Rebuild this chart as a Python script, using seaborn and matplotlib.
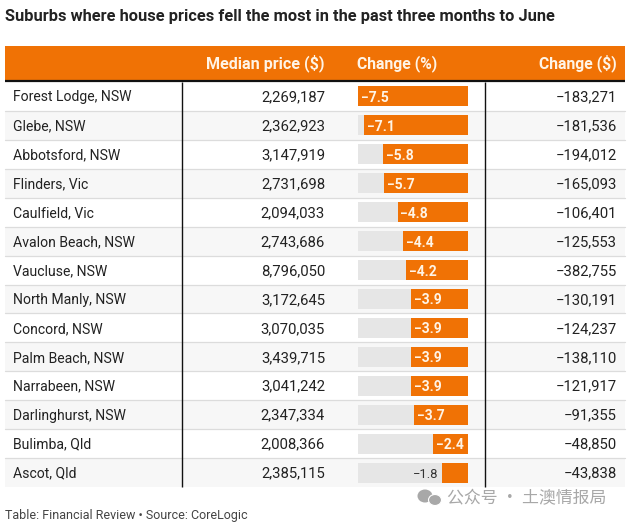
import matplotlib
matplotlib.use("Agg")
import matplotlib.pyplot as plt
from matplotlib.patches import Ellipse, Polygon
import pandas as pd
import seaborn as sns

TITLE = "Suburbs where house prices fell the most in the past three months to June"
FOOT = "Table: Financial Review • Source: CoreLogic"
HEAD_PRICE = "Median price ($)"
HEAD_PCT = "Change (%)"
HEAD_DOL = "Change ($)"
WATERMARK = "公众号 · 土澳情报局"

suburbs = ["Forest Lodge, NSW", "Glebe, NSW", "Abbotsford, NSW", "Flinders, Vic", "Caulfield, Vic",
           "Avalon Beach, NSW", "Vaucluse, NSW", "North Manly, NSW", "Concord, NSW", "Palm Beach, NSW",
           "Narrabeen, NSW", "Darlinghurst, NSW", "Bulimba, Qld", "Ascot, Qld"]
prices = [2269187, 2362923, 3147919, 2731698, 2094033, 2743686, 8796050,
          3172645, 3070035, 3439715, 3041242, 2347334, 2008366, 2385115]
change_pct = [-7.5, -7.1, -5.8, -5.7, -4.8, -4.4, -4.2, -3.9, -3.9, -3.9, -3.9, -3.7, -2.4, -1.8]
change_dol = [-183271, -181536, -194012, -165093, -106401, -125553, -382755,
              -130191, -124237, -138110, -121917, -91355, -48850, -43838]

ORANGE = "#f07205"
W, H = 628, 523
sns.set_theme(style="white")
plt.rcParams["font.family"] = ["Roboto", "DejaVu Sans"]
df = pd.DataFrame({"suburb": suburbs, "pct": change_pct, "track": min(change_pct)})
n = len(suburbs)

fig = plt.figure(figsize=(W / 100, H / 100), dpi=100)
bg = fig.add_axes([0, 0, 1, 1])
bg.set_xlim(0, W); bg.set_ylim(H, 0); bg.axis("off")

TOP, ROW = 82.0, 405.0 / n
X0, X1, V1, V2 = 5, 625, 181.5, 484.5
FS = 10.1
FS_NUM = 10.7
DARK = "#222222"

bg.text(5, 21.5, TITLE, fontsize=11.8, fontweight="bold", color=DARK, va="baseline", ha="left")
bg.axhspan(46, 81, xmin=X0 / W, xmax=X1 / W, color=ORANGE, lw=0)
bg.plot([X0, X1], [81.3, 81.3], color="#111111", lw=1.6, solid_capstyle="butt")
for x, t, ha, fs in [(325, HEAD_PRICE, "right", 11.6), (357, HEAD_PCT, "left", 11.3), (617, HEAD_DOL, "right", 11.3)]:
    bg.text(x, 68, t, color="#fff4e6", fontsize=fs, fontweight="bold", ha=ha, va="baseline")

for i in range(n):
    y0 = TOP + i * ROW
    if i % 2:
        bg.axhspan(y0, y0 + ROW, xmin=X0 / W, xmax=X1 / W, color="#f7f7f7", lw=0)
    if i < n - 1:
        bg.plot([X0, X1], [y0 + ROW, y0 + ROW], color="#dcdcdc", lw=0.9)
    yb = y0 + ROW / 2 + 5
    bg.text(13, yb, suburbs[i], fontsize=FS, color=DARK, ha="left", va="baseline")
    bg.text(325, yb, f"{prices[i]:,}", fontsize=FS_NUM, color=DARK, ha="right", va="baseline")
    bg.text(617, yb, f"−{abs(change_dol[i]):,}", fontsize=FS_NUM, color=DARK, ha="right", va="baseline")
for x in (V1, V2):
    bg.plot([x, x], [TOP, TOP + n * ROW], color="#111111", lw=1.0, solid_capstyle="butt")

bar_ax = fig.add_axes([358 / W, 1 - (TOP + n * ROW) / H, 110 / W, n * ROW / H])
bar_ax.patch.set_alpha(0)
sns.barplot(data=df, y="suburb", x="track", color="#e6e6e6", width=0.69, saturation=1,
            linewidth=0, ax=bar_ax, orient="h")
sns.barplot(data=df, y="suburb", x="pct", color=ORANGE, width=0.69, saturation=1,
            linewidth=0, ax=bar_ax, orient="h")
bar_ax.set_xlim(min(change_pct), 0)
bar_ax.set_ylim(n - 0.5, -0.5)
bar_ax.axis("off")
for i, v in enumerate(change_pct):
    label = f"−{abs(v):.1f}"
    if abs(v) >= 2:
        bar_ax.annotate(label, (v, i), xytext=(2, 0), textcoords="offset points",
                        ha="left", va="center_baseline", color="#fff4e6", fontsize=10, fontweight="bold")
    else:
        bar_ax.annotate(label, (v, i), xytext=(-2.5, 0), textcoords="offset points",
                        ha="right", va="center_baseline", color="#333333", fontsize=9.4)

bg.text(5, 519, FOOT, fontsize=9.0, color="#444444", ha="left", va="baseline")

# watermark
GREY = "#a8a8a8"
bg.add_patch(Ellipse((425, 496), 15, 13, color=GREY, lw=0))
bg.add_patch(Ellipse((435, 500), 13, 11, color=GREY, ec="white", lw=0.8))
bg.text(447, 498, WATERMARK, fontsize=12.2, color=GREY, ha="left", va="center",
        family=["Noto Sans CJK SC", "DejaVu Sans"])

fig.savefig("out.png", dpi=100)
